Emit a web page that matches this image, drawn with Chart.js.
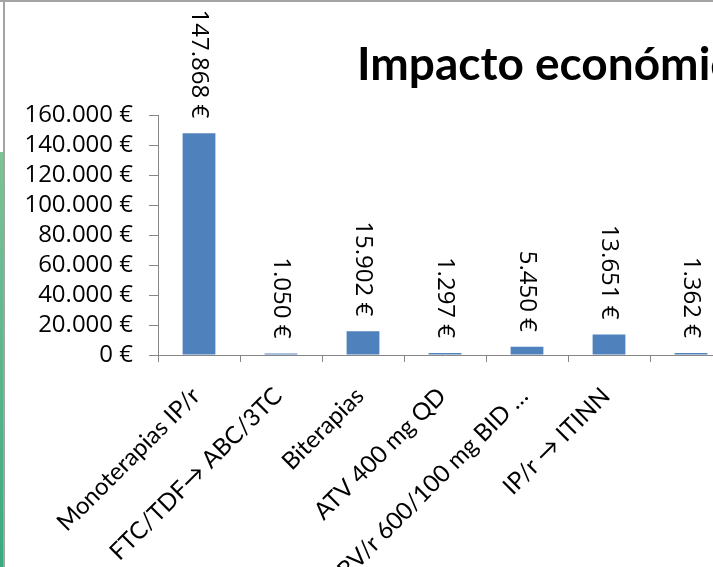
<!DOCTYPE html>
<html>
<head>
<meta charset="utf-8">
<script src="https://cdn.jsdelivr.net/npm/chart.js@4"></script>
<style>
  html, body { margin: 0; padding: 0; background: #fff; overflow: hidden; }
  body { width: 713px; height: 567px; position: relative; }
  #frame-top { position: absolute; left: 0; top: 0; width: 713px; height: 2px; background: #a3a3a3; }
  #frame-left { position: absolute; left: 3px; top: 0; width: 2px; height: 567px; background: #a3a3a3; }
  #strip { position: absolute; left: 0; top: 152px; width: 3px; height: 415px;
           background: linear-gradient(#7cc496, #3aa97f); }
  #chart { position: absolute; left: 0; top: 0; }
</style>
</head>
<body>
<canvas id="chart" width="740" height="600"></canvas>
<div id="frame-top"></div>
<div id="frame-left"></div>
<div id="strip"></div>
<script>
// Coste por estrategia de simplificación
const categories = [
    'Monoterapias IP/r',
    'FTC/TDF\u2192 ABC/3TC',
    'Biterapias',
    'ATV 400 mg QD',
    'DRV/r 600/100 mg BID \u2026',
    'IP/r \u2192 ITINN',
    ''
];
const costs = [147868, 1050, 15902, 1297, 5450, 13651, 1362];
const yTicks = [0, 20000, 40000, 60000, 80000, 100000, 120000, 140000, 160000];
const chartTitle = 'Impacto económico';

const LABEL_FONT = 'Lato';
const NUM_FONT = '"Open Sans"';
const AXIS_GRAY = '#868686';

// 147868 -> "147.868 €"
function euro(v) {
    return String(v).replace(/\B(?=(\d{3})+(?!\d))/g, '.') + ' €';
}

const canvas = document.getElementById('chart');
const H = canvas.height;

// Title drawn by hand so it can sit off-centre and run past the edge
const titlePlugin = {
    id: 'slideTitle',
    afterDraw(chart) {
        const ctx = chart.ctx;
        ctx.save();
        ctx.font = 'bold 46px ' + LABEL_FONT;
        ctx.fillStyle = '#000';
        ctx.textAlign = 'left';
        ctx.textBaseline = 'alphabetic';
        ctx.fillText(chartTitle, 357, 80);
        ctx.restore();
    }
};

// Vertical value labels above each bar
const valueLabels = {
    id: 'valueLabels',
    afterDatasetsDraw(chart) {
        const ctx = chart.ctx;
        const meta = chart.getDatasetMeta(0);
        const data = chart.data.datasets[0].data;
        ctx.save();
        ctx.font = '24px ' + NUM_FONT;
        ctx.fillStyle = '#000';
        meta.data.forEach((bar, i) => {
            ctx.save();
            ctx.translate(bar.x, bar.y - 15);
            ctx.rotate(Math.PI / 2);
            ctx.textAlign = 'right';
            ctx.textBaseline = 'middle';
            ctx.fillText(euro(data[i]), 0, 0);
            ctx.restore();
        });
        ctx.restore();
    }
};

// Category names at 45°, right end hooked just under each tick centre
const categoryLabels = {
    id: 'categoryLabels',
    afterDraw(chart) {
        const ctx = chart.ctx;
        const xs = chart.scales.x;
        ctx.save();
        ctx.font = '24px ' + LABEL_FONT;
        ctx.fillStyle = '#000';
        ctx.textAlign = 'right';
        ctx.textBaseline = 'middle';
        chart.data.labels.forEach((label, i) => {
            ctx.save();
            ctx.translate(xs.getPixelForValue(i) - 3, xs.top + 37);
            ctx.rotate(-Math.PI / 4);
            ctx.fillText(label, 0, 0);
            ctx.restore();
        });
        ctx.restore();
    }
};

new Chart(canvas.getContext('2d'), {
    type: 'bar',
    data: {
        labels: categories,
        datasets: [{
            data: costs,
            backgroundColor: '#4F81BD',
            borderWidth: 0,
            barPercentage: 0.4,
            categoryPercentage: 1
        }]
    },
    options: {
        responsive: false,
        animation: false,
        devicePixelRatio: 1,
        layout: {
            padding: { top: 115, right: 8, left: 0, bottom: 0 }
        },
        plugins: {
            legend: { display: false },
            title: { display: false },
            tooltip: { enabled: false }
        },
        scales: {
            y: {
                min: 0,
                max: 160000,
                afterFit(scale) { scale.width = 158; },
                afterBuildTicks(scale) {
                    scale.ticks = yTicks.map(v => ({ value: v }));
                },
                ticks: {
                    color: '#000',
                    autoSkip: false,
                    padding: 16,
                    font: { family: 'Open Sans', size: 24 },
                    callback: v => euro(v)
                },
                grid: {
                    drawOnChartArea: false,
                    color: AXIS_GRAY,
                    tickLength: 9
                },
                border: { color: AXIS_GRAY, width: 1 }
            },
            x: {
                afterFit(scale) { scale.height = H - 355; },
                ticks: { display: false, autoSkip: false },
                grid: {
                    drawOnChartArea: false,
                    offset: true,
                    color: AXIS_GRAY,
                    tickLength: 7
                },
                border: { color: AXIS_GRAY, width: 1 }
            }
        }
    },
    plugins: [valueLabels, categoryLabels, titlePlugin]
});
</script>
</body>
</html>
